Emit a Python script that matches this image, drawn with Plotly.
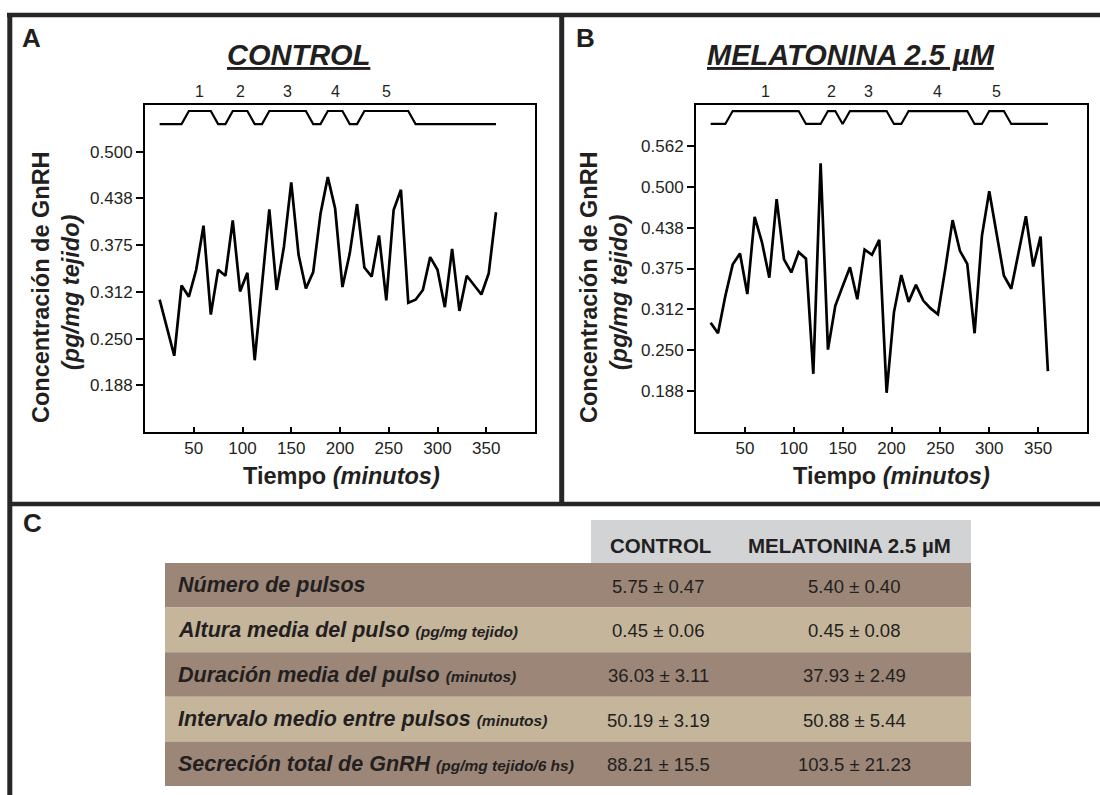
import plotly.graph_objects as go

# ---------------- data ----------------
time_min = [15 + 7.5 * i for i in range(47)]

control_gnrh = [0.302, 0.265, 0.227, 0.321, 0.306, 0.342, 0.401, 0.282, 0.342, 0.334,
                0.408, 0.313, 0.338, 0.221, 0.323, 0.423, 0.315, 0.373, 0.459, 0.362,
                0.317, 0.339, 0.417, 0.466, 0.424, 0.319, 0.364, 0.430, 0.345, 0.333,
                0.388, 0.301, 0.422, 0.449, 0.298, 0.302, 0.315, 0.359, 0.342, 0.292,
                0.370, 0.287, 0.334, 0.321, 0.309, 0.337, 0.419]

melatonin_gnrh = [0.292, 0.276, 0.333, 0.381, 0.398, 0.336, 0.454, 0.415, 0.361, 0.481,
                  0.389, 0.369, 0.400, 0.390, 0.214, 0.536, 0.251, 0.318, 0.348, 0.377,
                  0.328, 0.404, 0.396, 0.419, 0.185, 0.308, 0.365, 0.324, 0.350, 0.326,
                  0.314, 0.305, 0.374, 0.449, 0.402, 0.382, 0.276, 0.425, 0.493, 0.429,
                  0.364, 0.344, 0.399, 0.455, 0.378, 0.424, 0.218]

# pulse detection bars (time, state 0=basal / 1=pulse)
control_pulse_t = [15, 37.5, 45, 67.5, 75, 82.5, 90, 105, 112.5, 120, 127.5, 165,
                   172.5, 180, 187.5, 202.5, 210, 217.5, 225, 270, 277.5, 360]
control_pulse_s = [0, 0, 1, 1, 0, 0, 1, 1, 0, 0, 1, 1, 0, 0, 1, 1, 0, 0, 1, 1, 0, 0]
melatonin_pulse_t = [15, 30, 37.5, 105, 112.5, 127.5, 135, 142.5, 150, 157.5, 195,
                     202.5, 210, 217.5, 277.5, 285, 292.5, 300, 315, 322.5, 360]
melatonin_pulse_s = [0, 0, 1, 1, 0, 0, 1, 1, 0, 1, 1, 0, 0, 1, 1, 0, 0, 1, 1, 0, 0]

x_ticks = [50, 100, 150, 200, 250, 300, 350]
yA_ticks = [0.1875, 0.25, 0.3125, 0.375, 0.4375, 0.5]
yA_text = ["0.188", "0.250", "0.312", "0.375", "0.438", "0.500"]
yB_ticks = [0.1875, 0.25, 0.3125, 0.375, 0.4375, 0.5, 0.5625]
yB_text = ["0.188", "0.250", "0.312", "0.375", "0.438", "0.500", "0.562"]

table_header = ["CONTROL", "MELATONINA 2.5 µM"]
row_labels = ["Número de pulsos", "Altura media del pulso", "Duración media del pulso",
              "Intervalo medio entre pulsos", "Secreción total de GnRH"]
row_units = ["", "(pg/mg tejido)", "(minutos)", "(minutos)", "(pg/mg tejido/6 hs)"]
control_vals = ["5.75 ± 0.47", "0.45 ± 0.06", "36.03 ± 3.11", "50.19 ± 3.19", "88.21 ± 15.5"]
melatonin_vals = ["5.40 ± 0.40", "0.45 ± 0.08", "37.93 ± 2.49", "50.88 ± 5.44", "103.5 ± 21.23"]

# ---------------- helpers ----------------
W, H = 1100, 795
FONT = "Liberation Sans, Arial, Helvetica, sans-serif"
TXT = "#231f20"


def px(x):
    return x / W


def py(y):
    return 1 - y / H


fig = go.Figure()

# level of the pulse bar in each panel (low, high)
pulse_levels = {"A": (0.537, 0.5545), "B": (0.596, 0.6157)}

panels = [
    ("A", "x", "y", control_gnrh, control_pulse_t, control_pulse_s),
    ("B", "x2", "y2", melatonin_gnrh, melatonin_pulse_t, melatonin_pulse_s),
]

for name, xa, ya, vals, pt, ps in panels:
    fig.add_trace(go.Scatter(x=time_min, y=vals, mode="lines", xaxis=xa, yaxis=ya,
                             line=dict(color="black", width=2.7), showlegend=False,
                             hoverinfo="skip"))
    lo, hi = pulse_levels[name]
    fig.add_trace(go.Scatter(x=pt, y=[hi if s else lo for s in ps], mode="lines",
                             xaxis=xa, yaxis=ya, line=dict(color="black", width=2.2),
                             showlegend=False, hoverinfo="skip"))

annotations = []
# pulse numbers: centre of each high segment
for name, xa, pt, ps in [("A", "x", control_pulse_t, control_pulse_s),
                         ("B", "x2", melatonin_pulse_t, melatonin_pulse_s)]:
    k = 0
    i = 0
    while i < len(ps):
        if ps[i] == 1:
            j = i
            while j + 1 < len(ps) and ps[j + 1] == 1:
                j += 1
            k += 1
            annotations.append(dict(x=(pt[i] + pt[j]) / 2, xref=xa, y=py(92), yref="paper",
                                    text=str(k), showarrow=False,
                                    font=dict(family=FONT, size=16, color=TXT),
                                    xanchor="center", yanchor="middle"))
            i = j + 1
        else:
            i += 1

axis_common = dict(showgrid=False, zeroline=False, showline=True, mirror=True,
                   linecolor="black", linewidth=2, tickcolor="black", tickwidth=1.5,
                   tickfont=dict(family=FONT, size=17, color=TXT))

fig.update_layout(
    width=W, height=H, margin=dict(l=0, r=0, t=0, b=0),
    paper_bgcolor="white", plot_bgcolor="white",
    xaxis=dict(domain=[px(145), px(535)], range=[0, 400], tickvals=x_ticks,
               ticks="inside", ticklen=5, anchor="y", **axis_common),
    yaxis=dict(domain=[py(432), py(105)], range=[0.125, 0.5625], tickvals=yA_ticks,
               ticktext=yA_text, ticks="outside", ticklen=7, anchor="x", **axis_common),
    xaxis2=dict(domain=[px(696), px(1087)], range=[0, 400], tickvals=x_ticks,
                ticks="inside", ticklen=5, anchor="y2", **axis_common),
    yaxis2=dict(domain=[py(432), py(105)], range=[0.125, 0.625], tickvals=yB_ticks,
                ticktext=yB_text, ticks="outside", ticklen=7, anchor="x2", **axis_common),
)

# panel letters
for letter, x, y in [("A", 20, 38), ("B", 574, 38), ("C", 21, 523)]:
    annotations.append(dict(x=px(x), y=py(y), xref="paper", yref="paper",
                            text=f"<b>{letter}</b>", showarrow=False, xanchor="left",
                            yanchor="middle", font=dict(family=FONT, size=26, color=TXT)))

# panel titles
for t, x in [("CONTROL", 298), ("MELATONINA 2.5 µM", 851)]:
    annotations.append(dict(x=px(x), y=py(55), xref="paper", yref="paper",
                            text=f"<b><i><u>{t}</u></i></b>", showarrow=False,
                            xanchor="center", yanchor="middle",
                            font=dict(family=FONT, size=29, color=TXT)))

# axis titles
for xc, yt1, yt2 in [(341, 41, 71), (891, 589, 619)]:
    annotations.append(dict(x=px(xc), y=py(476), xref="paper", yref="paper",
                            text="<b>Tiempo <i>(minutos)</i></b>", showarrow=False,
                            xanchor="center", yanchor="middle",
                            font=dict(family=FONT, size=23.5, color=TXT)))
    annotations.append(dict(x=px(yt1), y=py(287), xref="paper", yref="paper",
                            text="<b>Concentración de GnRH</b>", showarrow=False, textangle=-90,
                            xanchor="center", yanchor="middle",
                            font=dict(family=FONT, size=23.5, color=TXT)))
    annotations.append(dict(x=px(yt2), y=py(292), xref="paper", yref="paper",
                            text="<b><i>(pg/mg tejido)</i></b>", showarrow=False, textangle=-90,
                            xanchor="center", yanchor="middle",
                            font=dict(family=FONT, size=23.5, color=TXT)))

shapes = []
BORDER = "#262626"
# frame lines
shapes += [
    dict(type="line", xref="paper", yref="paper", x0=px(7), x1=1, y0=py(15), y1=py(15),
         line=dict(color=BORDER, width=4.5)),
    dict(type="line", xref="paper", yref="paper", x0=px(9.8), x1=px(9.8), y0=py(13), y1=0,
         line=dict(color=BORDER, width=5)),
    dict(type="line", xref="paper", yref="paper", x0=px(561.7), x1=px(561.7), y0=py(15), y1=py(504),
         line=dict(color=BORDER, width=5)),
    dict(type="line", xref="paper", yref="paper", x0=px(9.8), x1=1, y0=py(504), y1=py(504),
         line=dict(color=BORDER, width=4.5)),
]

# table
TBL_L, TBL_R = 165, 971
HDR_L = 591
HDR_T, HDR_B = 520, 563
ROW_H = 44.6
DARK, LIGHT, GREY = "#9b8677", "#c5b59b", "#d2d3d5"
col_x = [658, 854]

shapes.append(dict(type="rect", xref="paper", yref="paper", x0=px(HDR_L), x1=px(TBL_R),
                   y0=py(HDR_B), y1=py(HDR_T), line=dict(width=0), fillcolor=GREY, layer="below"))
for k, h in enumerate(table_header):
    annotations.append(dict(x=px([660, 849][k]), y=py(545), xref="paper", yref="paper",
                            text=f"<b>{h}</b>", showarrow=False, xanchor="center",
                            yanchor="middle", font=dict(family=FONT, size=20.5, color=TXT)))

for r in range(len(row_labels)):
    top = HDR_B + r * ROW_H
    bot = top + ROW_H
    shapes.append(dict(type="rect", xref="paper", yref="paper", x0=px(TBL_L), x1=px(TBL_R),
                       y0=py(bot), y1=py(top), line=dict(width=0),
                       fillcolor=DARK if r % 2 == 0 else LIGHT, layer="below"))
    yc = (top + bot) / 2
    lab = f"<b><i>{row_labels[r]}</i></b>"
    if row_units[r]:
        lab += f" <span style='font-size:15.5px'><b><i>{row_units[r]}</i></b></span>"
    annotations.append(dict(x=px(176), y=py(yc), xref="paper", yref="paper", text=lab,
                            showarrow=False, xanchor="left", yanchor="middle",
                            font=dict(family=FONT, size=21.5, color=TXT)))
    for cx, v in zip(col_x, [control_vals[r], melatonin_vals[r]]):
        annotations.append(dict(x=px(cx), y=py(yc + 1), xref="paper", yref="paper", text=v,
                                showarrow=False, xanchor="center", yanchor="middle",
                                font=dict(family=FONT, size=18.5, color=TXT)))

fig.update_layout(annotations=annotations, shapes=shapes)

fig.write_html("out.html")
